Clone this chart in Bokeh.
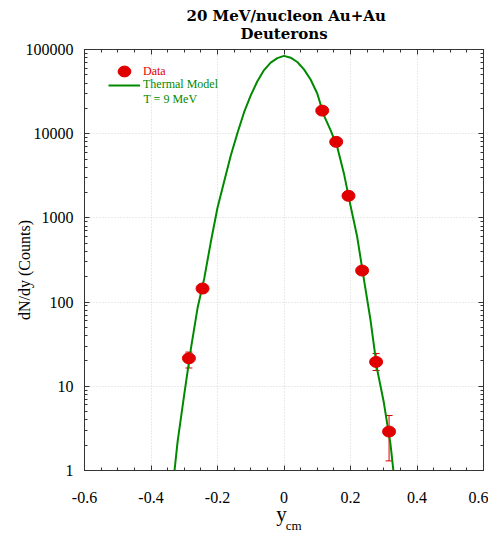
import math
from bokeh.plotting import figure
from bokeh.models import (Range1d, FixedTicker, CustomJSTickFormatter, LinearAxis, LogAxis,
                          ColumnDataSource, Whisker, TeeHead, Legend, LegendItem, Label, Title)
from bokeh.embed import file_html
from bokeh.resources import INLINE

# ---------------- data ----------------
data_x = [-0.286, -0.245, 0.115, 0.157, 0.194, 0.235, 0.277, 0.316]
data_y = [21.5, 145, 18800, 8000, 1830, 237, 19.5, 2.9]
data_lo = [16.5, 135, 18200, 7700, 1760, 225, 15.4, 1.3]
data_hi = [25.5, 155, 19400, 8300, 1900, 250, 24.5, 4.5]

model_x = [-0.34, -0.32, -0.30, -0.28, -0.26, -0.24, -0.22, -0.20, -0.18, -0.16, -0.14,
           -0.12, -0.10, -0.08, -0.06, -0.04, -0.02, 0.00, 0.02, 0.04, 0.06, 0.08,
           0.10, 0.12, 0.14, 0.16, 0.18, 0.20, 0.22, 0.24, 0.26, 0.28, 0.30, 0.32, 0.34]
model_y = [0.4, 2.2, 8, 28, 85, 190, 520, 1320, 2700, 5500, 10200,
           18000, 28500, 42000, 57000, 70000, 79000, 84000, 80000, 71000, 58000, 44000,
           30000, 16500, 11000, 7000, 3400, 1400, 600, 190, 62, 16, 6.5, 2.1, 0.4]

x_ticks = [-0.6, -0.4, -0.2, 0.0, 0.2, 0.4, 0.6]
x_tick_labels = ["-0.6", "-0.4", "-0.2", "0", "0.2", "0.4", "0.6"]
y_ticks = [1, 10, 100, 1000, 10000, 100000]
y_tick_labels = ["1", "10", "100", "1000", "10000", "100000"]

title_lines = ["20 MeV/nucleon Au+Au", "Deuterons"]
x_label_main, x_label_sub = "y", "cm"
y_label = "dN/dy (Counts)"
legend_data = "Data"
legend_model = "Thermal Model"
legend_model2 = "T = 9 MeV"

RED = "#e00000"
GREEN = "#008a00"
SERIF = "Liberation Serif"
TITLE_FONT = "DejaVu Serif"
NBSP = "\u00a0"

x_minor = [round(-0.6 + 0.05 * i, 2) for i in range(25)]
y_minor = [m * 10 ** d for d in range(5) for m in range(2, 10)]

# ---------------- figure ----------------
W, H = 488, 536
p = figure(width=W, height=H, x_range=Range1d(-0.6, 0.6), y_range=Range1d(1, 100000),
           y_axis_type="log", output_backend="svg", toolbar_location=None,
           min_border_left=84, min_border_right=5, min_border_top=49, min_border_bottom=66)
p.background_fill_color = "white"
p.border_fill_color = "white"
p.outline_line_color = "#333333"

bottom_ax = p.below[0]
left_ax = p.left[0]

lookup_code = """
let i = -1;
for (let k = 0; k < vals.length; k++) { if (Math.abs(vals[k] - tick) < 1e-6 * Math.max(1, Math.abs(tick))) { i = k; } }
return i >= 0 ? labs[i] : "";
"""
xfmt = CustomJSTickFormatter(args=dict(vals=x_ticks, labs=x_tick_labels), code=lookup_code)
yfmt = CustomJSTickFormatter(args=dict(vals=y_ticks, labs=y_tick_labels), code=lookup_code)
blank = CustomJSTickFormatter(code="return '';")

xticker = FixedTicker(ticks=x_ticks, minor_ticks=x_minor)
yticker = FixedTicker(ticks=y_ticks, minor_ticks=y_minor)

bottom_ax.ticker = xticker
left_ax.ticker = yticker
bottom_ax.formatter = xfmt
left_ax.formatter = yfmt
p.xgrid.ticker = xticker
p.ygrid.ticker = yticker

# top axis: ticks only, its label is the second title line
top_ax = LinearAxis(ticker=xticker, formatter=blank, major_label_text_font_size="1px",
                    major_label_standoff=0, axis_label=title_lines[1],
                    axis_label_text_font=TITLE_FONT, axis_label_text_font_style="bold",
                    axis_label_text_font_size="15px", axis_label_text_color="black",
                    axis_label_standoff=7)
right_ax = LogAxis(ticker=yticker, formatter=blank, major_label_text_font_size="1px",
                   major_label_standoff=0)
p.add_layout(top_ax, "above")
p.add_layout(right_ax, "right")

for ax in [bottom_ax, left_ax, top_ax, right_ax]:
    ax.major_tick_in = 5
    ax.major_tick_out = 0
    ax.minor_tick_in = 3
    ax.minor_tick_out = 0
    ax.axis_line_color = "#333333"
    ax.major_tick_line_color = "#333333"
    ax.minor_tick_line_color = "#333333"

for ax in [bottom_ax, left_ax]:
    ax.major_label_text_font = SERIF
    ax.major_label_text_font_size = "16px"
    ax.major_label_text_color = "black"
    ax.axis_label_text_font = SERIF
    ax.axis_label_text_font_style = "normal"
    ax.axis_label_text_color = "black"
bottom_ax.major_label_standoff = 21
left_ax.major_label_standoff = 11

# y axis label (trailing no-break spaces shift it slightly downwards like the original)
left_ax.axis_label = y_label + NBSP * 5
left_ax.axis_label_text_font_size = "16px"
left_ax.axis_label_standoff = -10

# x axis label "y" with subscript "cm" (subscript on an extra, invisible axis below)
bottom_ax.axis_label = x_label_main + NBSP
bottom_ax.axis_label_text_font_size = "21px"
bottom_ax.axis_label_standoff = -4

sub_ax = LinearAxis(ticker=FixedTicker(ticks=[]), formatter=blank,
                    major_label_text_font_size="1px", major_label_standoff=0,
                    major_tick_in=0, major_tick_out=0, minor_tick_in=0, minor_tick_out=0,
                    axis_line_alpha=0, axis_label=NBSP * 6 + x_label_sub,
                    axis_label_text_font=SERIF, axis_label_text_font_size="13px",
                    axis_label_text_font_style="normal", axis_label_text_color="black",
                    axis_label_standoff=-11)
p.add_layout(sub_ax, "below")

p.xgrid.grid_line_color = "#d4d4d4"
p.xgrid.grid_line_dash = "1 2"
p.ygrid.grid_line_color = "#d4d4d4"
p.ygrid.grid_line_dash = "1 2"

# ---------------- first title line ----------------
p.add_layout(Title(text=title_lines[0], align="left", offset=102, text_font=TITLE_FONT,
                   text_font_style="bold", text_font_size="15px", text_color="black",
                   standoff=-6), "above")

# ---------------- glyphs ----------------
msrc = ColumnDataSource(dict(x=model_x, y=model_y))
r_model = p.line("x", "y", source=msrc, line_color=GREEN, line_width=2)

dsrc = ColumnDataSource(dict(x=data_x, y=data_y, lo=data_lo, hi=data_hi))
wh = Whisker(source=dsrc, base="x", lower="lo", upper="hi", line_color=RED, line_width=1,
             upper_head=TeeHead(size=7, line_color=RED, line_width=1),
             lower_head=TeeHead(size=7, line_color=RED, line_width=1))
p.add_layout(wh)
r_data = p.ellipse(x="x", y="y", width=13, height=11, width_units="screen",
                   height_units="screen", source=dsrc, fill_color=RED, line_color=RED)

# ---------------- legends ----------------
common = dict(glyph_width=32, label_standoff=3, padding=0, margin=0, spacing=0,
              border_line_alpha=0, background_fill_alpha=0,
              label_text_font=SERIF, label_text_font_size="12px")
leg1 = Legend(items=[LegendItem(label=legend_data, renderers=[r_data])], location=(24, 391),
              glyph_height=16, label_height=14, label_text_color=RED, **common)
leg2 = Legend(items=[LegendItem(label=legend_model, renderers=[r_model])], location=(24, 378),
              glyph_height=12, label_height=12, label_text_color=GREEN, **common)
p.add_layout(leg1)
p.add_layout(leg2)
p.add_layout(Label(x=59, y=372, x_units="screen", y_units="screen", text=legend_model2,
                   text_font=SERIF, text_font_size="12px", text_color=GREEN,
                   text_baseline="middle", text_align="left"))

open("out.html", "w").write(file_html(p, INLINE))
